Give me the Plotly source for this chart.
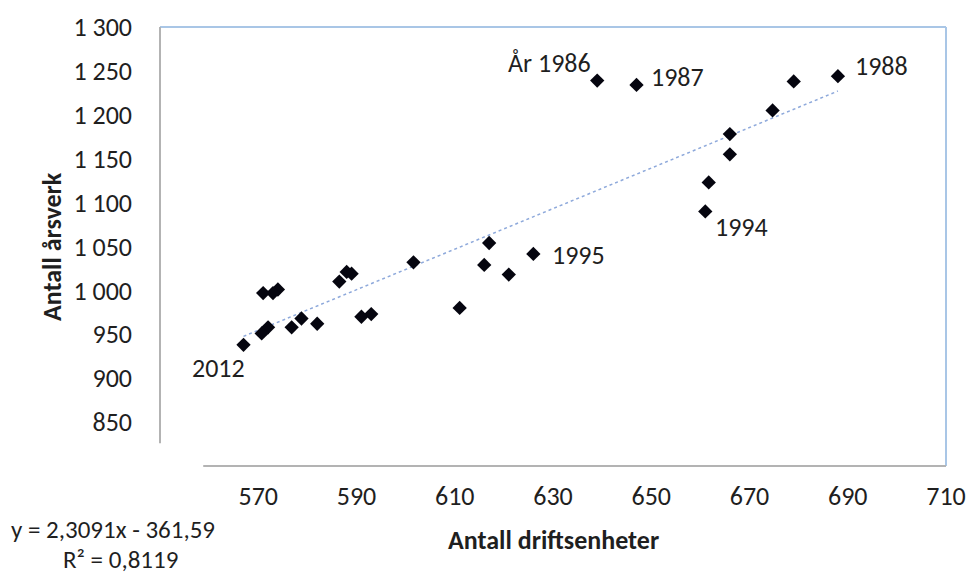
import plotly.graph_objects as go

# Data (Antall driftsenheter vs Antall årsverk)
driftsenheter = [639, 647, 688, 679, 674.7, 666, 666, 661.7, 661,
                 626, 617, 616, 621, 611, 601.6, 593, 591, 589, 588,
                 586.5, 582, 578.8, 576.8, 574, 573, 571, 572, 570.7, 567]
arsverk = [1239, 1234, 1244, 1238, 1205, 1178, 1155, 1123, 1090,
           1041.5, 1054, 1029, 1018, 980, 1032, 973, 970, 1019, 1021,
           1010, 962, 968, 958, 1001, 997, 997, 958, 951, 938]

# Linear trend shown on the chart
slope = 2.3091
intercept = -361.59
r2 = 0.8119

# Labelled points
label_text = ["År 1986", "1987", "1988", "1994", "1995", "2012"]
label_idx = [0, 1, 2, 8, 9, 28]

x_ticks = [570, 590, 610, 630, 650, 670, 690, 710]
y_ticks = [850, 900, 950, 1000, 1050, 1100, 1150, 1200, 1250, 1300]

FONT = "Carlito, Lato, sans-serif"
TXT = "#1f1f1f"
FS = 26

xmin, xmax = min(driftsenheter), max(driftsenheter)
trend_x = [xmin, xmax]
trend_y = [slope * v + intercept for v in trend_x]

fig = go.Figure()
fig.add_trace(go.Scatter(x=trend_x, y=trend_y, mode="lines",
                         line=dict(color="#8ea9db", width=1.5, dash="dot"),
                         hoverinfo="skip", showlegend=False))
fig.add_trace(go.Scatter(x=driftsenheter, y=arsverk, mode="markers",
                         marker=dict(symbol="diamond", size=11, color="#05050f",
                                     line=dict(width=0)),
                         showlegend=False))

# point labels: (xanchor, xshift, yshift)
offsets = [("right", -4, 18), ("left", 12, 8), ("left", 15, 10),
           ("left", 8, -16), ("left", 17, -1), ("right", 3, -23)]
for i, t, (xa, xs, ys) in zip(label_idx, label_text, offsets):
    fig.add_annotation(x=driftsenheter[i], y=arsverk[i], text=t, showarrow=False,
                       xanchor=xa, yanchor="middle", xshift=xs, yshift=ys,
                       font=dict(family=FONT, size=FS, color=TXT))

# axis titles
fig.add_annotation(x=0.5, y=-0.169, xref="paper", yref="paper", yanchor="middle",
                   xanchor="center",
                   text="<b>Antall driftsenheter</b>", showarrow=False,
                   font=dict(family=FONT, size=FS, color=TXT))
fig.add_annotation(x=-0.138, y=0.5, xref="paper", yref="paper",
                   xanchor="center", yanchor="middle",
                   text="<b>Antall årsverk</b>", textangle=-90, showarrow=False,
                   font=dict(family=FONT, size=FS, color=TXT))
# equation
eq = f"y = {str(slope).replace('.', ',')}x - {str(-intercept).replace('.', ',')}"
fig.add_annotation(x=-0.192, y=-0.144, xref="paper", yref="paper",
                   xanchor="left", yanchor="middle",
                   text=eq, showarrow=False, font=dict(family=FONT, size=25, color=TXT))
fig.add_annotation(x=-0.05, y=-0.214, xref="paper", yref="paper",
                   xanchor="center", yanchor="middle",
                   text=f"R² = {str(r2).replace('.', ',')}", showarrow=False,
                   font=dict(family=FONT, size=25, color=TXT))

# frame & axis lines
fig.add_shape(type="line", xref="paper", yref="paper", x0=0, x1=1, y0=1, y1=1,
              line=dict(color="#a9c6e6", width=2))
fig.add_shape(type="line", xref="paper", yref="paper", x0=1, x1=1, y0=0, y1=1,
              line=dict(color="#a9c6e6", width=2))
fig.add_shape(type="line", xref="paper", yref="y", x0=0, x1=0, y0=826, y1=1300,
              line=dict(color="#b3b3b3", width=2))
fig.add_shape(type="line", xref="x", yref="paper", x0=558.8, x1=710, y0=0, y1=0,
              line=dict(color="#b3b3b3", width=2))

fig.update_layout(
    width=968, height=575,
    margin=dict(l=160, r=22, t=27, b=109, autoexpand=False),
    paper_bgcolor="white", plot_bgcolor="white",
    separators=", ",
    font=dict(family=FONT, size=FS, color=TXT),
    xaxis=dict(range=[550, 710], tickvals=x_ticks, showgrid=False, zeroline=False,
               showline=False, ticks="", ticklabelstandoff=12, automargin=False,
               ticklabeloverflow="allow",
               tickfont=dict(family=FONT, size=FS, color=TXT)),
    yaxis=dict(range=[800, 1300], tickvals=y_ticks, tickformat=",d", showgrid=False,
               zeroline=False, showline=False, ticks="", ticklabelstandoff=27,
               automargin=False, ticklabeloverflow="allow",
               tickfont=dict(family=FONT, size=FS, color=TXT)),
)

# remove the default page margin so the figure fills the window exactly
fig.write_html("out.html",
               config={"displayModeBar": False},
               post_script="document.body.style.margin='0';"
                           "document.body.style.overflow='hidden';")
